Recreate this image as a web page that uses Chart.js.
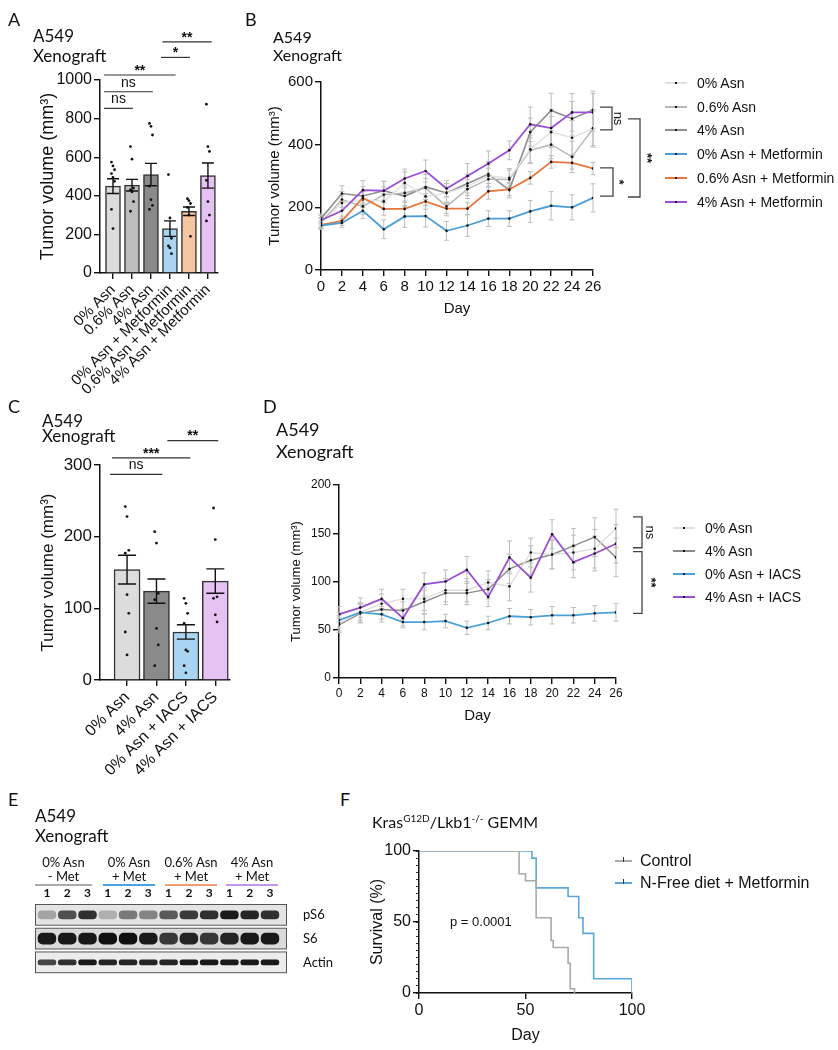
<!DOCTYPE html>
<html>
<head>
<meta charset="utf-8">
<script src="https://cdn.jsdelivr.net/npm/chart.js@4.4.1/dist/chart.umd.min.js"></script>
<style>
  body { margin: 0; background: #fff; }
  #page { position: relative; width: 838px; height: 1050px; overflow: hidden; font-family: Lato, sans-serif; color: #111; }
  canvas { position: absolute; }
  .t { position: absolute; white-space: nowrap; line-height: 1; }
  .lg { position: absolute; white-space: nowrap; font-family: "Liberation Sans", Arial, sans-serif; font-size: 14px; line-height: 16px; }
  .lg i { position: absolute; height: 2px; top: 7px; }
  .lg b { position: absolute; width: 2px; height: 2px; top: 7px; background: #111; }
  .grp { position: absolute; text-align: center; font-size: 13px; line-height: 14px; font-family: Lato, sans-serif; }
  .grp div { height: 2px; margin-top: 1px; }
</style>
</head>
<body>
<div id="page">
  <canvas id="cA" width="260" height="400" style="left:0;top:0"></canvas>
  <canvas id="cB" width="578" height="330" style="left:260px;top:0"></canvas>
  <canvas id="cC" width="260" height="400" style="left:0;top:390px"></canvas>
  <canvas id="cD" width="578" height="360" style="left:260px;top:380px"></canvas>
  <canvas id="cE" width="340" height="140" style="left:0;top:850px"></canvas>
  <canvas id="cF" width="478" height="260" style="left:360px;top:790px"></canvas>

  <div class="t" style="left:8px;top:10px;font-size:18px">A</div>
  <div class="t" style="left:33px;top:27px;font-size:17px">A549</div>
  <div class="t" style="left:33px;top:47px;font-size:17px">Xenograft</div>

  <div class="t" style="left:245px;top:10px;font-size:18px">B</div>
  <div class="t" style="left:273px;top:29px;font-size:16px">A549</div>
  <div class="t" style="left:273px;top:47px;font-size:16px">Xenograft</div>

  <div class="t" style="left:8px;top:397px;font-size:18px">C</div>
  <div class="t" style="left:42px;top:412px;font-size:17px">A549</div>
  <div class="t" style="left:42px;top:427px;font-size:17px">Xenograft</div>

  <div class="t" style="left:263px;top:397px;font-size:18px">D</div>
  <div class="t" style="left:276px;top:420px;font-size:18px">A549</div>
  <div class="t" style="left:276px;top:442px;font-size:18px">Xenograft</div>

  <div class="t" style="left:8px;top:790px;font-size:18px">E</div>
  <div class="t" style="left:35px;top:807px;font-size:17px">A549</div>
  <div class="t" style="left:35px;top:827px;font-size:17px">Xenograft</div>

  <div class="t" style="left:340px;top:790px;font-size:18px">F</div>
  <div class="t" style="left:372px;top:813px;font-size:16px">Kras<sup style="font-size:10px">G12D</sup>/Lkb1<sup style="font-size:10px">-/-</sup> GEMM</div>
  <div class="t" style="left:450px;top:915px;font-size:13px;font-family:'Liberation Sans',Arial,sans-serif">p = 0.0001</div>

  <div id="legB"></div>
  <div id="legD"></div>
  <div id="legF"></div>
  <div id="grpE"></div>
</div>

<script>
// ---- panel A: bars + dots ----
const labelsA = ['0% Asn', '0.6% Asn', '4% Asn', '0% Asn + Metformin', '0.6% Asn + Metformin', '4% Asn + Metformin'];
const meansA = [450, 455, 510, 230, 320, 505];
const semA = [38, 30, 58, 40, 22, 65];
const dotsA = [
  [575, 555, 535, 515, 495, 475, 330, 230],
  [655, 590, 440, 430, 420, 370, 320],
  [775, 760, 715, 450, 380, 350, 330],
  [510, 285, 180, 140, 130, 100],
  [385, 375, 360, 340, 300, 190],
  [875, 655, 630, 480, 370, 300, 270]
];
// significance lines: from/to in bar positions, y in mm3
const sigA = [
  { x1: 0.53, x2: 2.05, y: 853, label: 'ns' },
  { x1: 0.53, x2: 3.1, y: 939, label: 'ns' },
  { x1: 0.53, x2: 4.3, y: 1026, label: '**' },
  { x1: 3.53, x2: 5.05, y: 1117, label: '*' },
  { x1: 3.6, x2: 6.2, y: 1198, label: '**' }
];

// ---- panel B: growth curves ----
const daysB = [0, 2, 4, 6, 8, 10, 12, 14, 16, 18, 20, 22, 24, 26];
const namesB = ['0% Asn', '0.6% Asn', '4% Asn', '0% Asn + Metformin', '0.6% Asn + Metformin', '4% Asn + Metformin'];
const asn0B = [150, 214, 225, 219, 278, 235, 246, 268, 300, 294, 385, 440, 422, 452];
const asn06B = [152, 225, 203, 240, 246, 262, 203, 258, 290, 289, 382, 400, 361, 452];
const asn4B = [164, 244, 236, 253, 236, 265, 246, 276, 306, 255, 440, 509, 483, 511];
const met0B = [142, 150, 189, 130, 171, 172, 125, 142, 164, 164, 187, 205, 200, 230];
const met06B = [144, 157, 230, 195, 195, 219, 196, 196, 251, 257, 294, 345, 342, 324];
const met4B = [159, 189, 255, 253, 292, 316, 260, 300, 340, 382, 465, 453, 503, 503];
const errAsn0B = [15, 25, 25, 25, 35, 30, 30, 30, 35, 30, 45, 50, 55, 60];
const errAsn06B = [15, 25, 25, 25, 30, 30, 30, 30, 35, 30, 40, 45, 50, 55];
const errAsn4B = [15, 25, 30, 30, 35, 40, 30, 30, 40, 25, 45, 55, 55, 60];
const errMet0B = [12, 15, 25, 30, 35, 35, 30, 35, 25, 25, 35, 45, 40, 45];
const errMet06B = [12, 15, 20, 20, 25, 25, 15, 20, 25, 20, 20, 20, 20, 20];
const errMet4B = [15, 25, 30, 30, 30, 35, 25, 40, 40, 30, 55, 60, 60, 60];
const bracketsB = [
  { top: 520, bottom: 447, dx: 7, w: 12, ldx: 6, label: 'ns' },
  { top: 482, bottom: 233, dx: 35, w: 12, ldx: 7, label: '**' },
  { top: 326, bottom: 236, dx: 7, w: 13, ldx: 6, label: '*' }
];

// ---- panel C: bars + dots ----
const labelsC = ['0% Asn', '4% Asn', '0% Asn + IACS', '4% Asn + IACS'];
const meansC = [154, 124, 67, 138];
const semC = [20, 17, 10, 17];
const dotsC = [
  [242, 228, 181, 177, 119, 93, 67, 35],
  [207, 191, 121, 112, 72, 49, 20],
  [114, 107, 93, 79, 42, 40, 20, 10],
  [240, 196, 116, 114, 91, 81]
];
const sigC = [
  { x1: 0.42, x2: 2.2, y: 287, label: 'ns' },
  { x1: 0.49, x2: 3.15, y: 310, label: '***' },
  { x1: 2.37, x2: 4.1, y: 334, label: '**' }
];

// ---- panel D: growth curves ----
const daysD = [0, 2, 4, 6, 8, 10, 12, 14, 16, 18, 20, 22, 24, 26];
const namesD = ['0% Asn', '4% Asn', '0% Asn + IACS', '4% Asn + IACS'];
const asn0D = [57, 68, 77, 82, 82, 91, 91, 99, 95, 130, 128, 130, 134, 155];
const asn4D = [55, 67, 71, 70, 79, 88, 88, 92, 113, 122, 128, 137, 146, 125];
const iacs0D = [60, 68, 66, 58, 58, 59, 52, 57, 64, 63, 65, 65, 67, 68];
const iacs4D = [66, 73, 82, 62, 97, 100, 112, 84, 125, 104, 149, 120, 129, 139];
const errAsn0D = [8, 10, 10, 10, 12, 12, 12, 12, 15, 15, 15, 18, 20, 20];
const errAsn4D = [8, 10, 10, 9, 12, 12, 12, 10, 15, 15, 15, 18, 20, 20];
const errIacs0D = [8, 8, 8, 6, 8, 7, 7, 7, 8, 8, 9, 8, 8, 9];
const errIacs4D = [8, 10, 10, 8, 12, 12, 14, 10, 17, 15, 15, 16, 18, 20];
const bracketsD = [
  { top: 167, bottom: 135, dx: 17, w: 9, ldx: 8, label: 'ns' },
  { top: 131, bottom: 67, dx: 17, w: 9, ldx: 9, label: '**' }
];

// ---- panel E: western blot ----
const groupsE = [['0% Asn', '- Met'], ['0% Asn', '+ Met'], ['0.6% Asn', '+ Met'], ['4% Asn', '+ Met']];
const laneNums = [1, 2, 3, 1, 2, 3, 1, 2, 3, 1, 2, 3];
const blotRows = ['pS6', 'S6', 'Actin'];
const bandPS6 = [0.3, 0.7, 0.85, 0.25, 0.5, 0.45, 0.65, 0.8, 0.85, 0.95, 0.9, 0.85];
const bandS6 = [0.95, 0.95, 0.95, 1, 1, 0.95, 0.8, 0.9, 0.8, 0.9, 0.95, 0.95];
const bandActin = [0.75, 0.85, 0.95, 0.9, 0.9, 0.9, 0.9, 0.95, 0.95, 0.95, 0.95, 0.95];

// ---- panel F: survival ----
const namesF = ['Control', 'N-Free diet + Metformin'];
const ctrlDays = [0, 47, 50, 55, 62, 63, 70, 71, 73];
const ctrlSurv = [100, 84, 79, 53, 37, 32, 21, 3, 0];
const nfDays = [0, 53, 55, 70, 75, 77, 82, 100];
const nfSurv = [100, 95, 74, 68, 53, 42, 10, 0];

Chart.defaults.font.family = '"Liberation Sans", Arial, sans-serif';
Chart.defaults.color = '#111';
Chart.defaults.animation = false;
Chart.defaults.plugins.legend.display = false;
Chart.defaults.plugins.tooltip.enabled = false;

const fixW = w => s => { s.width = w; };
const fixH = h => s => { s.height = h; };
const pts = (xs, ys) => xs.map((x, i) => ({ x: x, y: ys[i] }));

const errorBars = {
  id: 'errorBars',
  beforeDatasetsDraw(chart, args, o) { if (o.behind) drawErrors(chart, o); },
  afterDatasetsDraw(chart, args, o) { if (!o.behind) drawErrors(chart, o); }
};
function drawErrors(chart, o) {
  const ctx = chart.ctx, y = chart.scales.y;
  chart.data.datasets.forEach((ds, di) => {
    if (!ds.errors) return;
    const meta = chart.getDatasetMeta(di);
    ctx.save();
    ctx.strokeStyle = o.color;
    ctx.lineWidth = o.width;
    meta.data.forEach((el, i) => {
      const v = ds.data[i].y, e = ds.errors[i];
      const y1 = y.getPixelForValue(v - e), y2 = y.getPixelForValue(v + e), x = el.x;
      ctx.beginPath();
      ctx.moveTo(x, y1); ctx.lineTo(x, y2);
      ctx.moveTo(x - o.cap, y1); ctx.lineTo(x + o.cap, y1);
      ctx.moveTo(x - o.cap, y2); ctx.lineTo(x + o.cap, y2);
      ctx.stroke();
    });
    ctx.restore();
  });
}

const sigLines = {
  id: 'sigLines',
  afterDatasetsDraw(chart, args, o) {
    const ctx = chart.ctx, x = chart.scales.x, y = chart.scales.y;
    (o.items || []).forEach(s => {
      const yy = y.getPixelForValue(s.y);
      ctx.save();
      ctx.strokeStyle = '#333';
      ctx.lineWidth = 1.2;
      ctx.beginPath();
      ctx.moveTo(x.getPixelForValue(s.x1), yy);
      ctx.lineTo(x.getPixelForValue(s.x2), yy);
      ctx.stroke();
      ctx.fillStyle = '#111';
      ctx.textAlign = 'center';
      ctx.textBaseline = 'bottom';
      ctx.font = s.label === 'ns' ? '14px "Liberation Sans", Arial' : 'bold 14px "Liberation Sans", Arial';
      ctx.fillText(s.label, (x.getPixelForValue(s.x1) + x.getPixelForValue(s.x2)) / 2, yy - (s.label === 'ns' ? 2 : -3));
      ctx.restore();
    });
  }
};

const brackets = {
  id: 'brackets',
  afterDatasetsDraw(chart, args, o) {
    const ctx = chart.ctx, area = chart.chartArea, y = chart.scales.y;
    (o.items || []).forEach(b => {
      const x1 = area.right + b.dx, x2 = x1 + b.w;
      const yt = y.getPixelForValue(b.top), yb = y.getPixelForValue(b.bottom);
      ctx.save();
      ctx.strokeStyle = '#444';
      ctx.lineWidth = 1.3;
      ctx.beginPath();
      ctx.moveTo(x1, yt); ctx.lineTo(x2, yt); ctx.lineTo(x2, yb); ctx.lineTo(x1, yb);
      ctx.stroke();
      ctx.translate(x2 + b.ldx, (yt + yb) / 2);
      ctx.rotate(Math.PI / 2);
      ctx.fillStyle = '#111';
      ctx.textAlign = 'center';
      ctx.textBaseline = 'middle';
      ctx.font = (b.label === 'ns' ? '' : 'bold ') + (o.size || 13) + 'px "Liberation Sans", Arial';
      ctx.fillText(b.label, 0, 0);
      ctx.restore();
    });
  }
};

function axisStyle(size) {
  return {
    grid: { display: true, drawOnChartArea: false, color: '#111', lineWidth: 1.4, tickLength: 6, offset: false },
    border: { display: true, color: '#111', width: 1.5 },
    ticks: { font: { size: size }, color: '#111', padding: 2, autoSkip: false, callback: v => String(v) }
  };
}

function barPanel(id, labels, means, sem, dots, sig, colors, o) {
  const ax = axisStyle(o.tick);
  const dotData = [];
  dots.forEach((arr, i) => arr.forEach((v, j) => dotData.push({ x: i + 1 + ((j % 3) - 1) * o.jit, y: v })));
  new Chart(document.getElementById(id), {
    type: 'bar',
    data: {
      datasets: [
        { type: 'scatter', data: dotData, pointRadius: 1.4, backgroundColor: '#111', borderWidth: 0, order: 0 },
        { type: 'bar', data: means.map((v, i) => ({ x: i + 1, y: v })), errors: sem,
          backgroundColor: colors, borderColor: '#333', borderWidth: 1.5, barThickness: o.bw, order: 1 }
      ]
    },
    options: {
      responsive: false,
      layout: { padding: { top: o.top, right: o.right, left: 0, bottom: 0 } },
      plugins: {
        errorBars: { color: '#111', width: 1.4, cap: o.cap },
        sigLines: { items: sig }
      },
      scales: {
        x: {
          type: 'linear', min: o.xmin, max: o.xmax, offset: false,
          grid: ax.grid, border: ax.border,
          afterBuildTicks: s => { s.ticks = labels.map((_, i) => ({ value: i + 1 })); },
          afterFit: fixH(o.xh),
          ticks: { autoSkip: false, minRotation: 45, maxRotation: 45, font: { size: o.lab }, color: '#111', padding: 2,
                   callback: v => labels[v - 1] }
        },
        y: {
          min: 0, max: o.ymax, grid: ax.grid, border: ax.border,
          ticks: Object.assign({}, ax.ticks, { stepSize: o.step }),
          afterFit: fixW(100),
          title: { display: true, text: 'Tumor volume (mm³)', font: { size: o.title }, padding: { top: o.tpad, bottom: 0 } }
        }
      }
    },
    plugins: [errorBars, sigLines]
  });
}

barPanel('cA', labelsA, meansA, semA, dotsA, sigA,
  ['#dcdcdc', '#bdbdbd', '#8a8a8a', '#a9d5f2', '#f6c6a2', '#e6c2f2'],
  { tick: 16, lab: 15, title: 18, tpad: 37, top: 80, right: 42, xh: 127, xmin: 0.316, xmax: 6.53, ymax: 1000, step: 200, bw: 15, cap: 6, jit: 0.08 });

barPanel('cC', labelsC, meansC, semC, dotsC, sigC,
  ['#dcdcdc', '#8a8a8a', '#a9d5f2', '#e6c2f2'],
  { tick: 17, lab: 16, title: 17, tpad: 38, top: 75, right: 30, xh: 110, xmin: 0.08, xmax: 4.5, ymax: 300, step: 100, bw: 26, cap: 9, jit: 0.06 });

function linePanel(id, days, series, o) {
  const ax = axisStyle(o.tick);
  new Chart(document.getElementById(id), {
    type: 'line',
    data: {
      datasets: series.map(s => ({
        data: pts(days, s.v), errors: s.e, borderColor: s.c, borderWidth: s.lw,
        pointRadius: 1.3, pointBackgroundColor: '#111', pointBorderWidth: 0, tension: 0, order: s.order
      }))
    },
    options: {
      responsive: false,
      layout: { padding: { top: o.top, right: o.right, left: 0, bottom: 0 } },
      plugins: {
        errorBars: { color: '#bdbdbd', width: 1, cap: 2.5, behind: true },
        brackets: { items: o.brackets, size: o.bsize }
      },
      scales: {
        x: {
          type: 'linear', min: 0, max: 26, grid: ax.grid, border: ax.border,
          ticks: Object.assign({}, ax.ticks, { stepSize: 2, maxRotation: 0, font: { size: o.xtick } }),
          afterFit: fixH(o.xh),
          title: { display: true, text: 'Day', font: { size: o.day }, padding: { top: 0, bottom: o.dpad } }
        },
        y: {
          min: 0, max: o.ymax, grid: ax.grid, border: ax.border,
          ticks: Object.assign({}, ax.ticks, { stepSize: o.step }),
          afterFit: fixW(o.yw),
          title: { display: true, text: 'Tumor volume (mm³)', font: { size: o.title }, padding: { top: o.tpad, bottom: 0 } }
        }
      }
    },
    plugins: [errorBars, brackets]
  });
}

const colB = ['#e2e2e2', '#b8b8b8', '#8e8e8e', '#4a9fd6', '#e8763a', '#9d4fd8'];
linePanel('cB', daysB, [
  { v: asn0B, e: errAsn0B, c: colB[0], lw: 1.5, order: 2 },
  { v: asn06B, e: errAsn06B, c: colB[1], lw: 1.5, order: 2 },
  { v: asn4B, e: errAsn4B, c: colB[2], lw: 1.6, order: 2 },
  { v: met0B, e: errMet0B, c: colB[3], lw: 1.8, order: 1 },
  { v: met06B, e: errMet06B, c: colB[4], lw: 1.8, order: 1 },
  { v: met4B, e: errMet4B, c: colB[5], lw: 1.8, order: 1 }
], { tick: 15, xtick: 15, day: 15, dpad: 12, title: 15, tpad: 6, top: 82, right: 245, xh: 60, yw: 61, ymax: 600, step: 200, brackets: bracketsB, bsize: 13 });

const colD = ['#dedede', '#8c8c8c', '#4aa3d8', '#9a4fd0'];
linePanel('cD', daysD, [
  { v: asn0D, e: errAsn0D, c: colD[0], lw: 1.4, order: 2 },
  { v: asn4D, e: errAsn4D, c: colD[1], lw: 1.4, order: 2 },
  { v: iacs0D, e: errIacs0D, c: colD[2], lw: 1.8, order: 1 },
  { v: iacs4D, e: errIacs4D, c: colD[3], lw: 1.8, order: 1 }
], { tick: 12, xtick: 12, day: 15, dpad: 15, title: 13, tpad: 29, top: 105, right: 222, xh: 62, yw: 79, ymax: 200, step: 50, brackets: bracketsD, bsize: 13 });

// legends for B and D
function legend(elId, names, colors, x, tops) {
  const el = document.getElementById(elId);
  names.forEach((n, i) => {
    const d = document.createElement('div');
    d.className = 'lg';
    d.style.left = x + 'px';
    d.style.top = tops[i] + 'px';
    d.innerHTML = '<i style="left:0;width:22px;background:' + colors[i] + '"></i><b style="left:10px"></b>' +
      '<span style="margin-left:32px">' + n + '</span>';
    el.appendChild(d);
  });
}
legend('legB', namesB, colB, 665, [75, 99, 122, 146, 170, 194]);
legend('legD', namesD, colD, 673, [520, 543, 566, 589]);

// ---- E blot ----
const blotBoxes = {
  id: 'blotBoxes',
  beforeDatasetsDraw(chart) {
    const ctx = chart.ctx, a = chart.chartArea, y = chart.scales.y;
    const h = (a.bottom - a.top) / blotRows.length;
    const bgs = ['#e4e4e4', '#dadada', '#ececec'];
    blotRows.forEach((r, i) => {
      const c = y.getPixelForValue(i);
      ctx.save();
      ctx.fillStyle = bgs[i];
      ctx.fillRect(a.left, c - h / 2 + 1.5, a.right - a.left, h - 3);
      ctx.strokeStyle = '#555';
      ctx.lineWidth = 1;
      ctx.strokeRect(a.left + 0.5, c - h / 2 + 1.5, a.right - a.left - 1, h - 3);
      ctx.restore();
    });
  }
};
const band = (row, vals) => vals.map((v, i) => ({ x: [i + 1 - 0.44, i + 1 + 0.44], y: row }));
const shade = vals => vals.map(v => 'rgba(15,15,15,' + v + ')');
new Chart(document.getElementById('cE'), {
  type: 'bar',
  data: {
    labels: blotRows,
    datasets: [
      { data: band('pS6', bandPS6), backgroundColor: shade(bandPS6), barThickness: 8, borderRadius: 4, borderSkipped: false },
      { data: band('S6', bandS6), backgroundColor: shade(bandS6), barThickness: 11, borderRadius: 5, borderSkipped: false },
      { data: band('Actin', bandActin), backgroundColor: shade(bandActin), barThickness: 5, borderRadius: 3, borderSkipped: false }
    ]
  },
  options: {
    responsive: false,
    indexAxis: 'y',
    layout: { padding: { left: 35, bottom: 4, top: 0, right: 0 } },
    datasets: { bar: { grouped: false } },
    scales: {
      x: {
        type: 'linear', position: 'top', min: 0.41, max: 12.84,
        grid: { display: false, drawTicks: false, tickLength: 0 }, border: { display: false },
        afterBuildTicks: s => { s.ticks = laneNums.map((_, i) => ({ value: i + 1 })); },
        afterFit: fixH(53),
        ticks: { autoSkip: false, maxRotation: 0, padding: 3, font: { family: 'Lato', size: 12, weight: 'bold' }, callback: v => laneNums[v - 1] }
      },
      y: {
        type: 'category', position: 'right', offset: true,
        grid: { display: false }, border: { display: false },
        afterFit: fixW(53),
        ticks: { padding: 8, font: { family: 'Lato', size: 13 } }
      }
    }
  },
  plugins: [blotBoxes]
});
// group labels with coloured underlines
const grpE = document.getElementById('grpE');
const grpColors = ['#aaaaaa', '#4aa3e0', '#f0a070', '#c496e4'];
const grpLeft = [35, 103, 165, 226], grpWidth = [57, 52, 52, 52];
groupsE.forEach((g, i) => {
  const d = document.createElement('div');
  d.className = 'grp';
  d.style.left = (grpLeft[i] - 6) + 'px';
  d.style.width = (grpWidth[i] + 12) + 'px';
  d.style.top = '855px';
  d.innerHTML = g[0] + '<br>' + g[1] + '<div style="margin-left:6px;margin-right:6px;background:' + grpColors[i] + '"></div>';
  grpE.appendChild(d);
});

// ---- F survival ----
const colF = ['#aaaaaa', '#5aa8dc'];
new Chart(document.getElementById('cF'), {
  type: 'line',
  data: {
    datasets: [
      { data: pts(ctrlDays, ctrlSurv), borderColor: colF[0], borderWidth: 1.6, stepped: true, pointRadius: 0, yAxisID: 'y' },
      { data: pts(nfDays, nfSurv), borderColor: colF[1], borderWidth: 1.6, stepped: true, pointRadius: 0, yAxisID: 'y' }
    ]
  },
  options: {
    responsive: false,
    layout: { padding: { top: 61, right: 206, left: 0, bottom: 0 } },
    scales: {
      x: {
        type: 'linear', min: 0, max: 100, grid: axisStyle(16).grid, border: axisStyle(16).border,
        ticks: { stepSize: 50, font: { size: 16 }, color: '#111', padding: 2 },
        afterFit: fixH(57),
        title: { display: true, text: 'Day', font: { size: 16 }, padding: { top: 0, bottom: 5 } }
      },
      y: {
        min: 0, max: 100, weight: 1, grid: axisStyle(16).grid, border: axisStyle(16).border,
        ticks: { stepSize: 50, font: { size: 16 }, color: '#111', padding: 2 },
        afterFit: fixW(59),
        title: { display: true, text: 'Survival (%)', font: { size: 16 }, padding: { top: 8, bottom: 0 } }
      },
      ym: {
        position: 'left', min: 0, max: 100, weight: 0,
        grid: { display: true, drawOnChartArea: false, color: '#333', lineWidth: 1, tickLength: 3 },
        border: { display: false },
        ticks: { display: false, stepSize: 5 },
        afterFit: fixW(0)
      }
    }
  }
});
// legend F
(function () {
  const el = document.getElementById('legF');
  namesF.forEach((n, i) => {
    const d = document.createElement('div');
    d.className = 'lg';
    d.style.left = '615px';
    d.style.top = (853 + i * 22) + 'px';
    d.style.fontSize = '16px';
    d.innerHTML = '<i style="left:0;width:17px;height:1.5px;background:' + colF[i] + '"></i>' +
      '<b style="left:8px;top:4px;width:1px;height:5px;background:#333"></b>' +
      '<span style="margin-left:25px">' + n + '</span>';
    el.appendChild(d);
  });
})();
</script>
</body>
</html>
